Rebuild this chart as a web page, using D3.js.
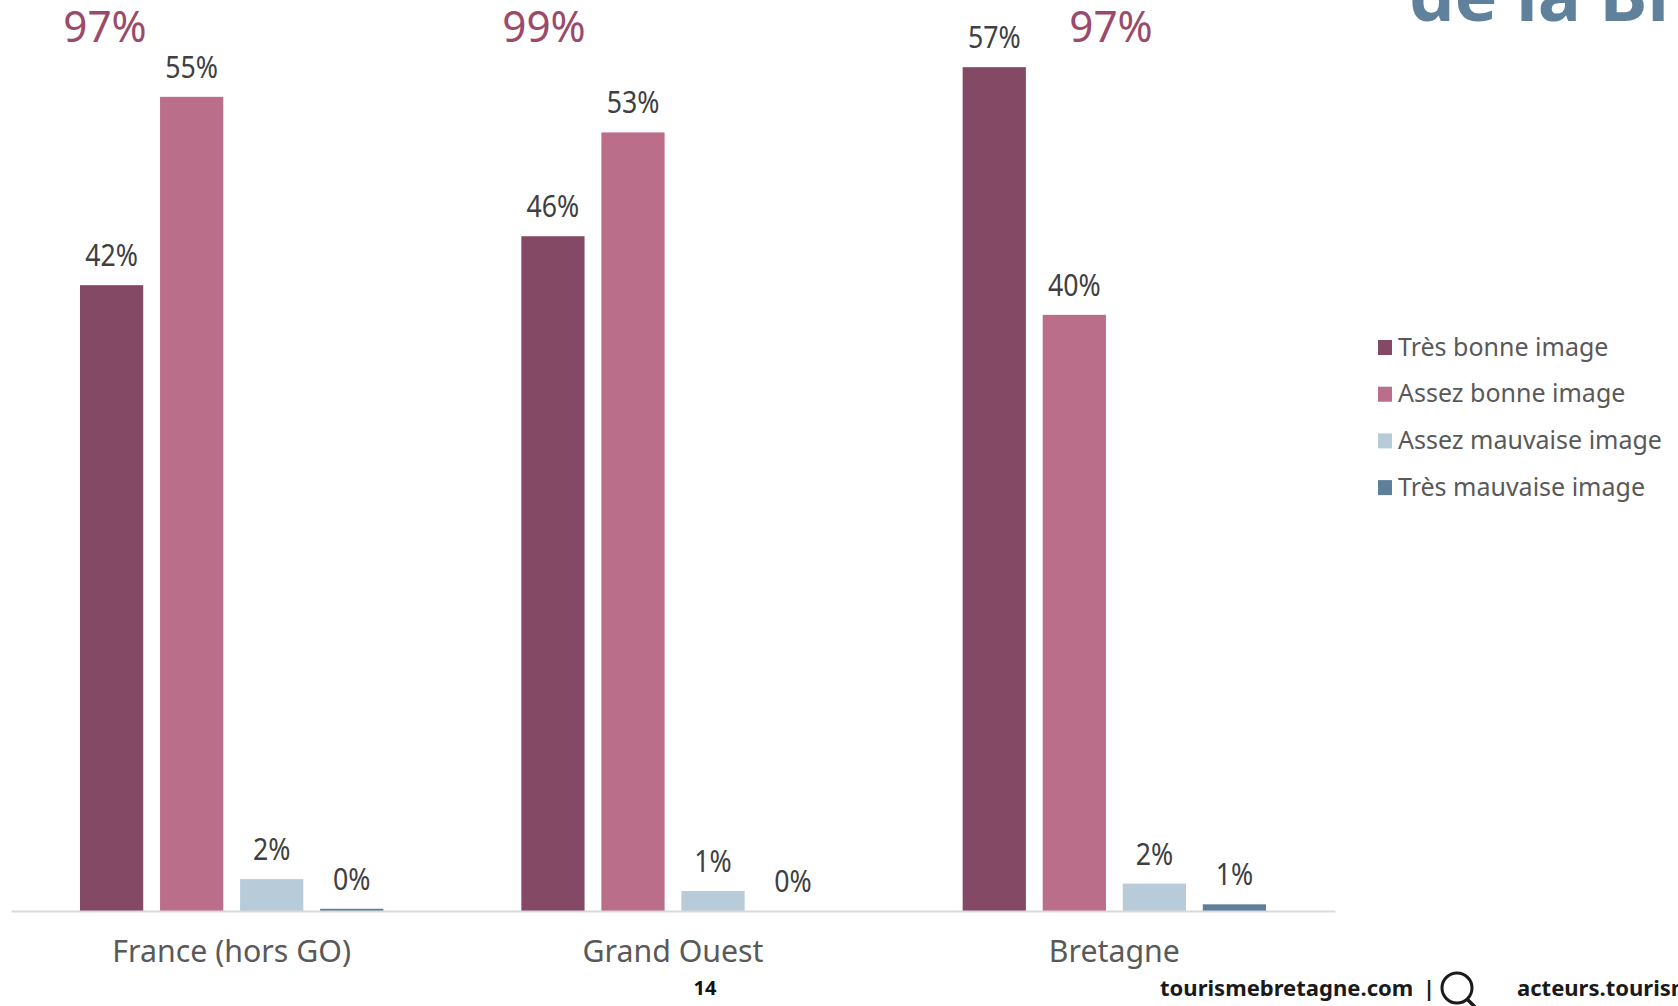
<!DOCTYPE html>
<html>
<head>
<meta charset="utf-8">
<script src="https://cdn.jsdelivr.net/npm/d3@7"></script>
<style>
html,body{margin:0;padding:0;background:#fff;overflow:hidden}
svg{display:block}
text{font-family:"Noto Sans",sans-serif}
</style>
</head>
<body>
<svg id="c" width="1678" height="1006"></svg>
<script>
const categories = ["France (hors GO)", "Grand Ouest", "Bretagne"];
const seriesNames = ["Très bonne image", "Assez bonne image", "Assez mauvaise image", "Très mauvaise image"];
const tresBonne = [42.2, 45.5, 56.9];
const assezBonne = [54.9, 52.5, 40.2];
const assezMauvaise = [2.15, 1.35, 1.85];
const tresMauvaise = [0.15, 0, 0.45];
const labelsTresBonne = ["42%", "46%", "57%"];
const labelsAssezBonne = ["55%", "53%", "40%"];
const labelsAssezMauvaise = ["2%", "1%", "2%"];
const labelsTresMauvaise = ["0%", "0%", "1%"];
const totals = ["97%", "99%", "97%"];
const colors = ["#834965", "#BB6E89", "#B7CBD9", "#5D7F99"];
const titleText = "de la Bretagne";
const pageNumber = "14";
const footerLeft = "tourismebretagne.com";
const footerRight = "acteurs.tourismebretagne.com";

const series = [tresBonne, assezBonne, assezMauvaise, tresMauvaise];
const labels = [labelsTresBonne, labelsAssezBonne, labelsAssezMauvaise, labelsTresMauvaise];

const svg = d3.select("#c");
const baseY = 911, pxPerPct = 14.83;
const y = d3.scaleLinear().domain([0, 60]).range([baseY, baseY - 60 * pxPerPct]);
const x0 = d3.scaleBand().domain(categories).range([11, 1335]);
const x1 = d3.scaleBand().domain(d3.range(4)).range([0, x0.bandwidth()]).paddingInner(0.21).paddingOuter(0.862);

// condensed text helper: the source face is narrower than Noto Sans
function label(x, yy, str, o) {
  return svg.append("text")
    .attr("transform", `translate(${x},${yy}) scale(${o.sx || 1},1)`)
    .attr("text-anchor", o.anchor || "middle")
    .attr("font-size", o.size)
    .attr("font-weight", o.weight || 400)
    .attr("fill", o.fill)
    .text(str);
}

// bars
series.forEach((vals, s) => {
  svg.append("g").selectAll("rect").data(vals).join("rect")
    .attr("x", (d, i) => x0(categories[i]) + x1(s))
    .attr("width", x1.bandwidth())
    .attr("y", d => y(d))
    .attr("height", d => baseY - y(d))
    .attr("fill", colors[s]);
  vals.forEach((v, i) => {
    label(x0(categories[i]) + x1(s) + x1.bandwidth() / 2, y(v) - 19, labels[s][i],
      {size: 30, sx: 0.89, fill: "#404040"});
  });
});

// axis
const axis = d3.axisBottom(x0).tickSize(0).tickPadding(0);
const gAxis = svg.append("g").attr("transform", `translate(0,${baseY})`).call(axis);
gAxis.select(".domain").attr("stroke", "#D9D9D9").attr("stroke-width", 2);
gAxis.selectAll("text").remove();
categories.forEach(c => label(x0(c) + x0.bandwidth() / 2, 962, c, {size: 30, sx: 1.01, fill: "#595959"}));

// totals
const totalX = [105, 544, 1111];
totals.forEach((t, i) => label(totalX[i], 42, t, {size: 44, sx: 0.96, fill: "#9B4A6A"}));

// legend
seriesNames.forEach((n, i) => {
  const yy = 355.5 + i * 46.7;
  svg.append("rect").attr("x", 1378).attr("y", yy - 15.5).attr("width", 14).attr("height", 15).attr("fill", colors[i]);
  label(1398, yy, n, {size: 25, sx: 1.0, anchor: "start", fill: "#595959"});
});

// title (cut by the page edge)
label(1409, 21, titleText, {size: 72, weight: 700, anchor: "start", fill: "#5F819B"});

// footer
label(705, 995, pageNumber, {size: 20, weight: 700, fill: "#111"});
label(1160, 996, footerLeft, {size: 21, sx: 1.05, weight: 700, anchor: "start", fill: "#1a1a1a"});
label(1429, 996, "|", {size: 21, weight: 700, fill: "#1a1a1a"});
svg.append("circle").attr("cx", 1457).attr("cy", 988).attr("r", 15).attr("fill", "none").attr("stroke", "#1a1a1a").attr("stroke-width", 3);
svg.append("path").attr("d", d3.line()([[1467, 999], [1476, 1008]])).attr("stroke", "#1a1a1a").attr("stroke-width", 3.5);
label(1517, 996, footerRight, {size: 21, sx: 1.05, weight: 700, anchor: "start", fill: "#1a1a1a"});
</script>
</body>
</html>
